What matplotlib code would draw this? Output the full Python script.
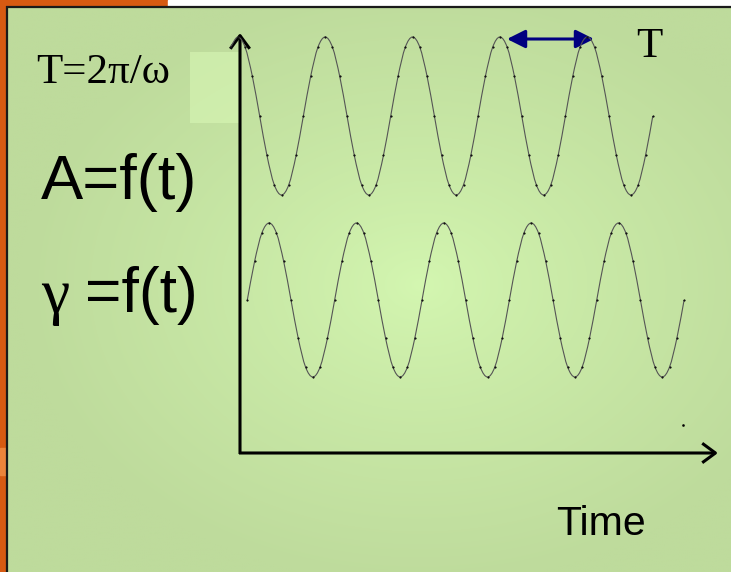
import numpy as np
import matplotlib.pyplot as plt
from matplotlib.patches import Rectangle, FancyArrowPatch, PathPatch
from matplotlib.path import Path

W, H = 731, 572

# A = f(t): one sample every 30 degrees, starting just before a crest
amp_a = [0.87,
         1.0, 0.87, 0.5, 0.0, -0.5, -0.87, -1.0, -0.87, -0.5, 0.0, 0.5, 0.87,
         1.0, 0.87, 0.5, 0.0, -0.5, -0.87, -1.0, -0.87, -0.5, 0.0, 0.5, 0.87,
         1.0, 0.87, 0.5, 0.0, -0.5, -0.87, -1.0, -0.87, -0.5, 0.0, 0.5, 0.87,
         1.0, 0.87, 0.5, 0.0, -0.5, -0.87, -1.0, -0.87, -0.5, 0.0, 0.5, 0.87,
         1.0, 0.87, 0.5, 0.0, -0.5, -0.87, -1.0, -0.87, -0.5, 0.0]

# gamma = f(t): starts at zero going up, five full periods
amp_g = [0.0, 0.5, 0.87, 1.0, 0.87, 0.5, 0.0, -0.5, -0.87, -1.0, -0.87, -0.5,
         0.0, 0.5, 0.87, 1.0, 0.87, 0.5, 0.0, -0.5, -0.87, -1.0, -0.87, -0.5,
         0.0, 0.5, 0.87, 1.0, 0.87, 0.5, 0.0, -0.5, -0.87, -1.0, -0.87, -0.5,
         0.0, 0.5, 0.87, 1.0, 0.87, 0.5, 0.0, -0.5, -0.87, -1.0, -0.87, -0.5,
         0.0, 0.5, 0.87, 1.0, 0.87, 0.5, 0.0, -0.5, -0.87, -1.0, -0.87, -0.5,
         0.0]

t_a = np.arange(len(amp_a)) - 2.3
t_g = np.arange(len(amp_g)) * 1.0


def smooth_path(x, y):
    # catmull-rom through the samples, like a smoothed excel line
    p = np.column_stack([x, y])
    n = len(p)
    verts = [p[0]]
    codes = [Path.MOVETO]
    for i in range(n - 1):
        p0 = p[i - 1] if i > 0 else p[i]
        p3 = p[i + 2] if i + 2 < n else p[i + 1]
        c1 = p[i] + (p[i + 1] - p0) / 6.0
        c2 = p[i + 1] - (p3 - p[i]) / 6.0
        verts += [c1, c2, p[i + 1]]
        codes += [Path.CURVE4] * 3
    return Path(verts, codes)


fig = plt.figure(figsize=(W / 100, H / 100), dpi=100)
bg = fig.add_axes([0, 0, 1, 1])
bg.set_xlim(0, W)
bg.set_ylim(H, 0)
bg.axis('off')

# slide frame
bg.add_patch(Rectangle((0, 0), 7, H, color='#d65a12', zorder=0))
bg.add_patch(Rectangle((0, 448), 7, 27, color='#ec843a', zorder=0))
bg.add_patch(Rectangle((0, 0), 168, 6, color='#d65a12', zorder=0))
bg.add_patch(Rectangle((168, 0), W - 168, 6, color='white', zorder=0))

# radial green gradient
gx, gy = np.meshgrid(np.linspace(7, W, 300), np.linspace(7, H, 240))
d = np.sqrt(((gx - 420) / 400.0) ** 2 + ((gy - 285) / 300.0) ** 2)
d = np.clip(d, 0, 1) ** 0.8
edge = np.array([190, 219, 156]) / 255.0
mid = np.array([212, 247, 177]) / 255.0
img = mid[None, None, :] * (1 - d[..., None]) + edge[None, None, :] * d[..., None]
bg.imshow(img, extent=(7, W, H, 7), aspect='auto', zorder=1, interpolation='bilinear')
bg.add_patch(Rectangle((190, 52), 50, 71, color='#d8f7b5', alpha=0.6, zorder=2, lw=0))

bg.plot([6, W], [6.5, 6.5], color='#1a1a1a', lw=1.6, zorder=3, solid_capstyle='butt')
bg.plot([6.5, 6.5], [6, H], color='#1a1a1a', lw=1.6, zorder=3, solid_capstyle='butt')

# axes arrows
bg.add_patch(FancyArrowPatch((240, 454), (240, 33), arrowstyle='->,head_length=0.95,head_width=0.7',
                             mutation_scale=10, lw=2.2, color='black', shrinkA=0, shrinkB=0,
                             capstyle='butt', zorder=5))
bg.add_patch(FancyArrowPatch((239, 453), (718, 453), arrowstyle='->,head_length=0.95,head_width=0.7',
                             mutation_scale=10, lw=2.2, color='black', shrinkA=0, shrinkB=0,
                             capstyle='butt', zorder=5))
bg.plot([683], [425], marker='s', ms=0.8, color='black', zorder=5)

# period arrow
bg.add_patch(FancyArrowPatch((507, 39), (594, 39), arrowstyle='<|-|>,head_length=1.1,head_width=0.55',
                             mutation_scale=10, lw=2.2, color='#000080', shrinkA=0, shrinkB=0, zorder=6))

# labels
serif = 'Liberation Serif'
sans = 'Liberation Sans'
bg.text(36, 83, 'T=2π/ω', family=serif, fontsize=31, va='baseline', zorder=6)
bg.text(636, 57, 'T', family=serif, fontsize=31, va='baseline', zorder=6)
bg.text(41, 199, 'A=f(t)', family=sans, fontsize=45.5, va='baseline', zorder=6)
bg.text(41, 312, 'γ', family=serif, fontsize=46, va='baseline', zorder=6)
bg.text(85, 312, '=f(t)', family=sans, fontsize=45, va='baseline', zorder=6)
bg.text(556, 535, 'Time', family=sans, fontsize=29.5, va='baseline', zorder=6)

# wave panels
step = 7.28
x0 = 247.3
tmin, tmax = -3, 61
left = x0 + tmin * step
width = (tmax - tmin) * step


def wave_axes(center, amp, t, vals):
    ax = fig.add_axes([left / W, 1 - (center + amp) / H, width / W, 2 * amp / H])
    ax.set_xlim(tmin, tmax)
    ax.set_ylim(-1, 1)
    ax.axis('off')
    ax.patch.set_alpha(0)
    ax.add_patch(PathPatch(smooth_path(t, vals), fill=False, edgecolor='#555555',
                           lw=0.8, clip_on=False))
    ax.plot(t, vals, ls='none', marker='o', ms=1.2, mew=0.3, color='#111111', clip_on=False)
    return ax


ax_a = wave_axes(116, 79, t_a, amp_a)
ax_g = wave_axes(300, 77, t_g, amp_g)

fig.savefig('out.png', dpi=100)
